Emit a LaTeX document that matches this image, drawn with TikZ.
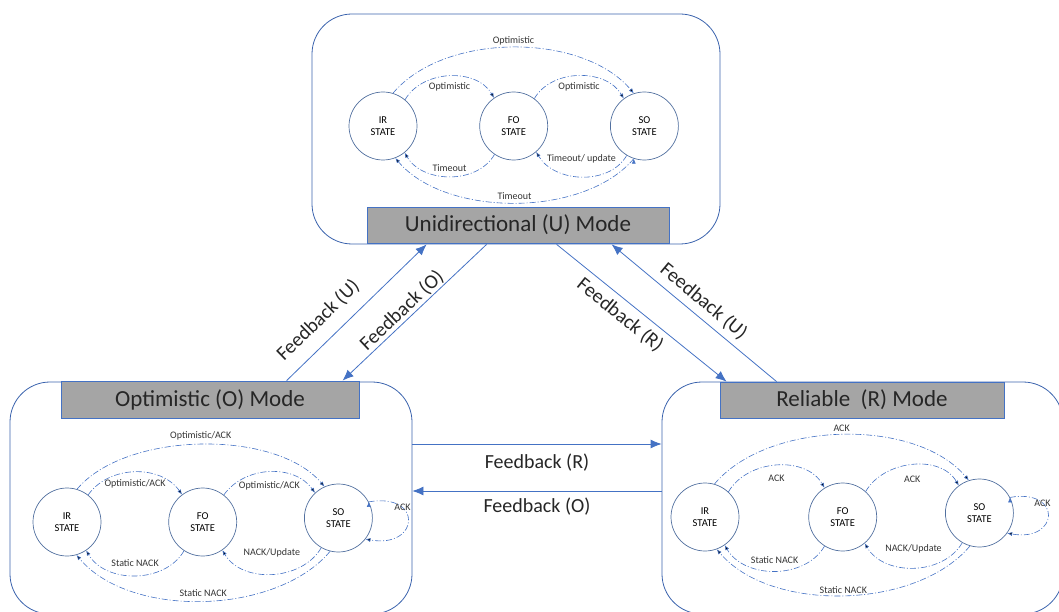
\documentclass[tikz,border=0pt]{standalone}
\usepackage{fontspec}
\setmainfont{Carlito}
\usetikzlibrary{positioning,arrows.meta}
\definecolor{boxblue}{HTML}{3B63AD}
\definecolor{stateblue}{HTML}{52709F}
\definecolor{arrowblue}{HTML}{4472C4}
\definecolor{bargray}{HTML}{A5A5A5}

\begin{document}
\begin{tikzpicture}[
    x = 1pt, y = 1pt,
    > = {Latex[length=5pt,width=4pt]},
    modebox/.style={rectangle, draw=boxblue, line width=0.8pt, rounded corners=40pt, inner sep=0pt},
    modebar/.style={rectangle, draw=arrowblue, line width=0.8pt, fill=bargray, inner sep=0pt, text=black!85, font=\fontsize{23}{26}\selectfont},
    state/.style={circle, draw=stateblue, line width=0.7pt, minimum size=68pt, inner sep=0pt, align=center, font=\fontsize{10.5}{12}\selectfont},
    trans/.style={->, draw=arrowblue, line width=0.6pt, dash pattern=on 6pt off 2pt on 1pt off 2pt},
    tlabel/.style={font=\fontsize{10}{12}\selectfont, text=black!80, inner sep=1pt},
    feedback/.style={-{Latex[length=11pt,width=9pt]}, draw=arrowblue, line width=0.8pt},
    flabel/.style={font=\fontsize{20}{24}\selectfont, text=black!85, inner sep=2pt}
]
    \useasboundingbox (0,0) rectangle (1059,-612);

    % unidirectional mode
    \node[modebox, minimum width=408pt, minimum height=230pt] (ubox) at (516,-129) {};
    \node[modebar, minimum width=302pt, minimum height=36pt] (ubar) at (518,-225) {Unidirectional (U) Mode};
    \node[state] (uir) at (383,-126) {IR\\STATE};
    \node[state, right=62pt of uir] (ufo) {FO\\STATE};
    \node[state, right=62pt of ufo] (uso) {SO\\STATE};

    \path[trans, every node/.style={tlabel}]
        (uir.73) edge[out=50, in=130, looseness=0.85] node[above=1pt] {Optimistic} (uso.108)
        (uir.50) edge[out=60, in=120] node[below=5pt] {Optimistic} (ufo.125)
        (ufo.53) edge[out=60, in=120] node[below=5pt] {Optimistic} (uso.127)
        (ufo.-124) edge[out=-120, in=-60] node[above=4pt] {Timeout} (uir.-51)
        (uso.-121) edge[out=-120, in=-60] node[above=12pt] {Timeout/ update} (ufo.-49)
        (uso.-108) edge[out=-130, in=-50, looseness=0.83] node[above=2pt] {Timeout} (uir.-69);

    % optimistic mode
    \node[modebox, minimum width=402pt, minimum height=232pt] (obox) at (211,-498) {};
    \node[modebar, minimum width=298pt, minimum height=37pt] (obar) at (210,-399.5) {Optimistic (O) Mode};
    \node[state] (oir) at (67,-522) {IR\\STATE};
    \node[state, right=67pt of oir] (ofo) {FO\\STATE};
    \node[state, right=67pt of ofo, yshift=4pt] (oso) {SO\\STATE};

    \path[trans, every node/.style={tlabel}]
        (oir.73) edge[out=50, in=130, looseness=0.78] node[above=3pt] {Optimistic/ACK} (oso.114)
        (oir.52) edge[out=55, in=125] node[below=6pt] {Optimistic/ACK} (ofo.127)
        (ofo.52) edge[out=55, in=125] node[below=8pt] {Optimistic/ACK} (oso.133)
        (ofo.-123) edge[out=-120, in=-60] node[above=8pt] {Static NACK} (oir.-56)
        (oso.-120) edge[out=-120, in=-60] node[above=16pt] {NACK/Update} (ofo.-55)
        (oso.-104) edge[out=-130, in=-50, looseness=0.84] node[above=3pt] {Static NACK} (oir.-74)
        (oso.28) edge[out=10, in=-10, looseness=3.8] node[pos=0.3] {ACK} (oso.-38);

    % reliable mode
    \node[modebox, minimum width=401pt, minimum height=232pt] (rbox) at (862.5,-498) {};
    \node[modebar, minimum width=284pt, minimum height=36pt] (rbar) at (862,-400) {Reliable\ \ (R) Mode};
    \node[state] (rir) at (705,-517) {IR\\STATE};
    \node[state, right=69pt of rir] (rfo) {FO\\STATE};
    \node[state, right=68pt of rfo, yshift=4pt] (rso) {SO\\STATE};

    \path[trans, every node/.style={tlabel}]
        (rir.74) edge[out=50, in=130, looseness=0.83] node[above=2pt] {ACK} (rso.108)
        (rir.47) edge[out=60, in=120] node[below=8pt] {ACK} (rfo.122)
        (rfo.48) edge[out=60, in=120] node[below=10pt] {ACK} (rso.127)
        (rfo.-122) edge[out=-120, in=-60] node[above=6pt] {Static NACK} (rir.-55)
        (rso.-120) edge[out=-120, in=-60] node[above=13pt] {NACK/Update} (rfo.-50)
        (rso.-106) edge[out=-130, in=-50, looseness=0.84] node[above=1pt] {Static NACK} (rir.-70)
        (rso.27) edge[out=10, in=-10, looseness=3.8] node[pos=0.3] {ACK} (rso.-36);

    % feedback between modes
    \draw[feedback] ([xshift=226pt]obar.north west) -- node[flabel, pos=0.33, sloped, above=10pt] {Feedback (U)} ([xshift=115pt]ubox.south west);
    \draw[feedback] ([xshift=175pt]ubox.south west) -- node[flabel, pos=0.54, sloped, above=-1pt] {Feedback (O)} ([xshift=282pt]obar.north west);
    \draw[feedback] ([xshift=245pt]ubox.south west) -- node[flabel, pos=0.43, sloped, below=4pt] {Feedback (R)} ([xshift=7pt]rbar.north west);
    \draw[feedback] ([xshift=57pt]rbar.north west) -- node[flabel, midway, sloped, above=4pt] {Feedback (U)} ([xshift=300pt]ubox.south west);
    \draw[feedback] ([yshift=54pt]obox.east) -- node[flabel, below=7pt] {Feedback (R)} ([yshift=54pt]rbox.west);
    \draw[feedback] ([yshift=7pt]rbox.west) -- node[flabel, below=4pt] {Feedback (O)} ([yshift=7pt]obox.east);
\end{tikzpicture}
\end{document}
